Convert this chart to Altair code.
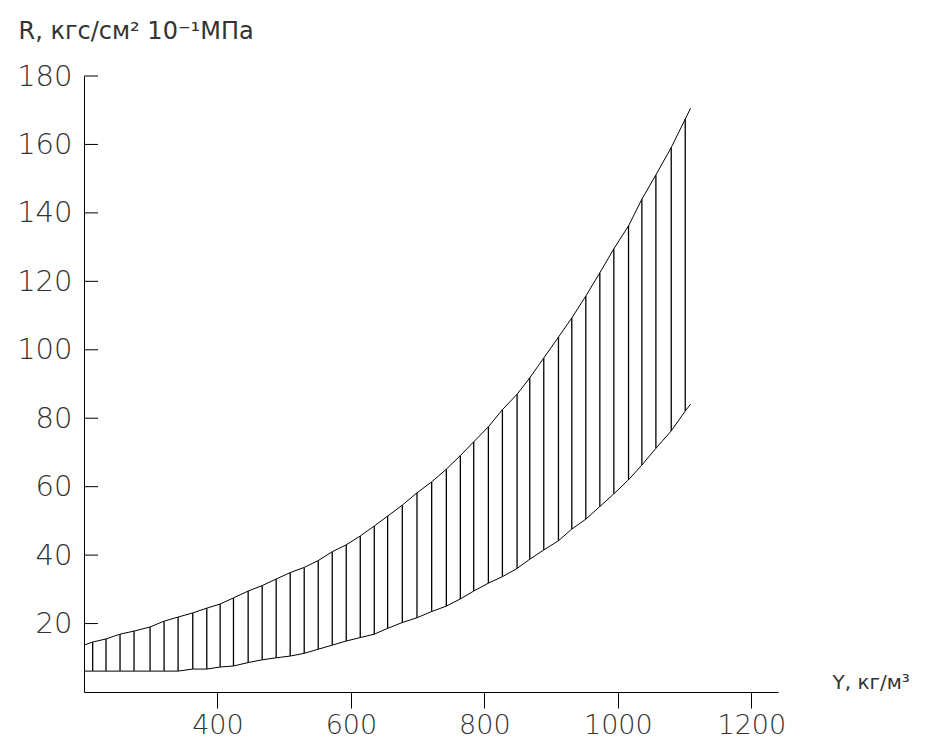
import altair as alt
import pandas as pd

# Hatch line positions (density, kg/m3) and bounds (R)
hatch_x = [213, 233, 254, 275, 299, 320, 341, 363, 384, 404, 424, 446, 467, 488,
           509, 530, 551, 572, 593, 614, 635, 655, 677, 699, 721, 743, 764, 784,
           806, 827, 849, 868, 889, 911, 931, 952, 973, 994, 1016, 1036, 1057,
           1080, 1101]
hatch_upper = [14.6, 15.5, 16.9, 17.8, 19.0, 20.7, 21.9, 23.1, 24.5, 25.7, 27.5,
               29.5, 31.1, 33.0, 34.9, 36.4, 38.4, 41.0, 43.0, 45.6, 48.5, 51.4,
               54.6, 58.2, 61.4, 65.1, 69.1, 73.1, 77.5, 82.5, 87.0, 91.8, 97.6,
               103.7, 109.3, 115.7, 122.5, 129.5, 136.2, 144.0, 151.1, 159.1, 167.4]
hatch_lower = [6.1, 6.1, 6.1, 6.1, 6.1, 6.1, 6.1, 6.7, 6.7, 7.3, 7.6, 8.6, 9.4,
               10.0, 10.5, 11.3, 12.5, 13.7, 14.9, 15.9, 16.9, 18.6, 20.3, 21.7,
               23.5, 25.1, 27.2, 29.5, 31.8, 33.7, 36.1, 38.8, 41.5, 44.2, 47.6,
               50.5, 54.2, 57.9, 62.0, 66.3, 71.2, 76.3, 82.1]

# curve end points beyond the hatching
start_x, start_upper, start_lower = 200, 13.7, 6.1
end_x, end_upper, end_lower = 1109, 170.6, 84.1

y_ticks = [20, 40, 60, 80, 100, 120, 140, 160, 180]
x_ticks = [400, 600, 800, 1000, 1200]

FONT = "DejaVu Sans"
TEXT_COLOR = "#333"

hatch = pd.DataFrame({"x": hatch_x, "upper": hatch_upper, "lower": hatch_lower})
curve_x = [start_x] + hatch_x + [end_x]
curves = pd.DataFrame({
    "x": curve_x * 2,
    "R": [start_upper] + hatch_upper + [end_upper] + [start_lower] + hatch_lower + [end_lower],
    "curve": ["upper"] * len(curve_x) + ["lower"] * len(curve_x),
})
ticks = pd.DataFrame({"y": y_ticks})

xscale = alt.Scale(domain=[200, 1240], nice=False, zero=False)
yscale = alt.Scale(domain=[0, 180], nice=False)

xaxis = alt.Axis(
    values=x_ticks, format="d", tickSize=16, tickColor="black", domainColor="black",
    labelFont=FONT, labelFontSize=27, labelColor=TEXT_COLOR, labelPadding=4,
    labelFontWeight=200, grid=False,
    title="Y, кг/м³", titleFont=FONT, titleFontSize=20, titleFontWeight="normal",
    titleColor=TEXT_COLOR, titleAlign="left", titleBaseline="alphabetic",
    titleX=748, titleY=-4, titleAngle=0,
)
yaxis = alt.Axis(
    values=y_ticks, format="d", ticks=False, domainColor="black",
    labelFont=FONT, labelFontSize=29, labelColor=TEXT_COLOR, labelPadding=12,
    labelFontWeight=200, grid=False,
    title="R, кгс/см² 10⁻¹МПа", titleFont=FONT, titleFontSize=24,
    titleFontWeight="normal", titleColor=TEXT_COLOR, titleAlign="left",
    titleBaseline="alphabetic", titleAngle=0, titleX=-66, titleY=-38,
)

rules = alt.Chart(hatch).mark_rule(color="black", strokeWidth=1.3).encode(
    x=alt.X("x:Q", scale=xscale, axis=xaxis),
    y=alt.Y("lower:Q", scale=yscale, axis=yaxis),
    y2="upper:Q",
)

lines = alt.Chart(curves).mark_line(color="black", strokeWidth=1).encode(
    x=alt.X("x:Q", scale=xscale),
    y=alt.Y("R:Q", scale=yscale),
    detail="curve:N",
)

ytick_marks = alt.Chart(ticks).mark_rule(color="black", strokeWidth=1).encode(
    y=alt.Y("y:Q", scale=yscale),
    x=alt.value(0),
    x2=alt.value(14),
)

chart = alt.layer(rules, lines, ytick_marks).properties(
    width=694, height=616,
    autosize=alt.AutoSizeParams(type="none"),
    padding={"left": 76, "top": 68, "right": 150, "bottom": 50},
).configure(background="white").configure_view(stroke=None)

chart.save("out.html", embed_options={"renderer": "svg", "actions": False})
